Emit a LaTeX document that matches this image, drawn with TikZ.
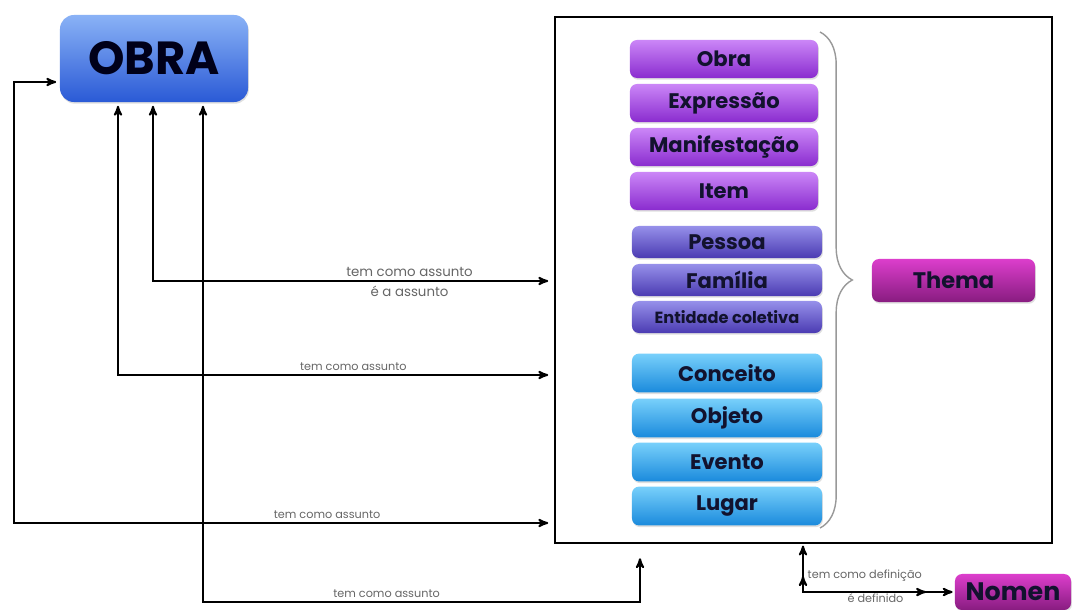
\documentclass[tikz,border=0pt]{standalone}
\usepackage{fontspec}
\setmainfont{Poppins}
\usetikzlibrary{arrows,calc,decorations.pathreplacing,decorations.markings,shadows}

\definecolor{obratop}{HTML}{8AB2F6}
\definecolor{obrabot}{HTML}{2A5AD6}
\definecolor{frbrtop}{HTML}{CB86F7}
\definecolor{frbrbot}{HTML}{8A2CCF}
\definecolor{agentop}{HTML}{9690EA}
\definecolor{agenbot}{HTML}{4B3BB2}
\definecolor{assutop}{HTML}{78D0FB}
\definecolor{assubot}{HTML}{1A8ADC}
\definecolor{themtop}{HTML}{DC3ECC}
\definecolor{thembot}{HTML}{881C80}
\definecolor{texto}{HTML}{12122E}

\begin{document}
\begin{tikzpicture}[x=0.025cm,y=-0.025cm,>=stealth',line width=1.4pt,
  box/.style={rounded corners=5pt,inner sep=0pt,text=texto,
    font=\bfseries\fontsize{15}{17}\selectfont,
    drop shadow={opacity=0.25,shadow xshift=0.6pt,shadow yshift=-1.2pt}},
  grupo1/.style={box,top color=frbrtop,bottom color=frbrbot,
    minimum width=4.7cm,minimum height=0.95cm},
  grupo2/.style={box,top color=agentop,bottom color=agenbot,
    minimum width=4.75cm,minimum height=0.8cm},
  grupo3/.style={box,top color=assutop,bottom color=assubot,
    minimum width=4.75cm,minimum height=0.97cm},
  rel/.style={font=\fontsize{8}{9}\selectfont,text=black!60,line width=0pt},
  link/.style={<->,shorten <=2pt,shorten >=4pt},
  mid arrows/.style={postaction={decorate},decoration={markings,
    mark=at position 0.8cm with {\arrowreversed{stealth'}},
    mark=at position -0.7cm with {\arrow{stealth'}}}}]

  \useasboundingbox[fill=white] (0,0) rectangle (1072,610);

  \node[draw,line width=1.6pt,inner sep=0pt,minimum width=12.425cm,
    minimum height=13.15cm] (frame) at (803.5,280) {};

  \node[box,rounded corners=10pt,top color=obratop,bottom color=obrabot,
    minimum width=4.7cm,minimum height=2.175cm,
    font=\bfseries\fontsize{33}{35}\selectfont,text=black!90!blue] (obra) at (154,58.5) {OBRA};

  % entidades do grupo 1
  \node[grupo1] (g1a) at (724,59) {Obra};
  \node[grupo1] (g1b) at (724,103) {Expressão};
  \node[grupo1] (g1c) at (724,147) {Manifestação};
  \node[grupo1] (g1d) at (724,191) {Item};
  % entidades do grupo 2
  \node[grupo2] (g2a) at (727,242) {Pessoa};
  \node[grupo2] (g2b) at (727,280) {Família};
  \node[grupo2,font=\bfseries\fontsize{11.5}{13}\selectfont] (g2c) at (727,317) {Entidade coletiva};
  % entidades do grupo 3
  \node[grupo3] (g3a) at (727,373) {Conceito};
  \node[grupo3] (g3b) at (727,418) {Objeto};
  \node[grupo3] (g3c) at (727,462) {Evento};
  \node[grupo3] (g3d) at (727,506) {Lugar};

  \draw[decorate,decoration={brace,amplitude=23pt},black!40,line width=1pt]
    (820,32) -- (820,528);

  \node[box,top color=themtop,bottom color=thembot,minimum width=4.075cm,
    minimum height=1.075cm,font=\bfseries\fontsize{16}{18}\selectfont] (thema) at (953.5,280.5) {Thema};
  \node[box,top color=themtop,bottom color=thembot,minimum width=2.9cm,
    minimum height=0.9cm,font=\bfseries\fontsize{18}{20}\selectfont] (nomen) at (1013,592) {Nomen};

  \coordinate (c1) at (14,82);
  \coordinate (c2) at (14,523);
  \coordinate (c3) at (118,375);
  \coordinate (c4) at (153,281);
  \coordinate (c5) at (203,602);
  \coordinate (c6) at (640,602);
  \coordinate (c7) at (803,592);

  \draw[link] (obra.west |- c1) -- (c1) -- (c2)
    -- node[rel,above,pos=0.58] {tem como assunto} (frame.west |- c2);
  \draw[link] (obra.south -| c3) -- (c3)
    -- node[rel,above,pos=0.54] {tem como assunto} (frame.west |- c3);
  \draw[link] (obra.south -| c4) -- (c4)
    -- node[rel,above,pos=0.64,font=\fontsize{9.5}{11}\selectfont] {tem como assunto}
       node[rel,below,pos=0.64,font=\fontsize{9.5}{11}\selectfont] {é a assunto} (frame.west |- c4);
  \draw[link,shorten >=10pt] (obra.south -| c5) -- (c5)
    -- node[rel,above,pos=0.42] {tem como assunto} (c6) -- (frame.south -| c6);
  \draw[<->,shorten <=1pt,shorten >=1pt,mid arrows] (frame.south -| c7)
    -- node[rel,right,pos=0.65] {tem como definição} (c7)
    -- node[rel,below,pos=0.48,inner sep=1pt] {é definido} (nomen.west |- c7);
\end{tikzpicture}
\end{document}
